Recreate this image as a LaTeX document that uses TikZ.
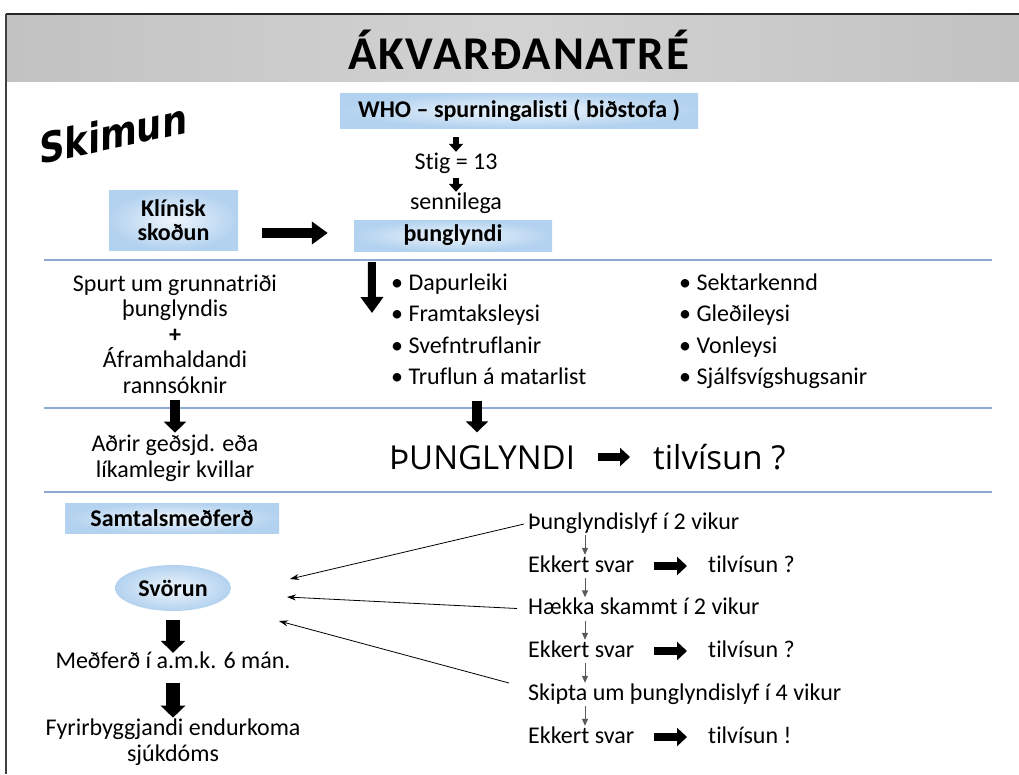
\documentclass[tikz,border=0pt]{standalone}
\usepackage{fontspec}
\setmainfont{Carlito}[Ligatures=NoCommon]
\newfontfamily\bigfont{Open Sans}
\newfontfamily\skimfont{DejaVu Sans}[FakeSlant=0.25]
\newfontfamily\titlefont{Carlito}[LetterSpace=4, Ligatures=NoCommon]
\usetikzlibrary{arrows.meta,shapes.geometric,calc}
\definecolor{boxout}{HTML}{B3D2EF}
\definecolor{boxin}{HTML}{EEF5FC}
\definecolor{rulecol}{HTML}{8FAAD3}
\definecolor{band}{HTML}{C2C2C2}
\definecolor{bandlight}{HTML}{D3D3D3}
\definecolor{thingrey}{HTML}{5A5A5A}
\begin{document}
\begin{tikzpicture}[x=1pt,y=-1pt,
  body/.style={font=\fontsize{24}{25.5}\selectfont, inner sep=0pt, align=center},
  oneline/.style={font=\fontsize{24}{25}\selectfont, inner sep=0pt, text height=17pt, text depth=5pt},
  bluebox/.style={inner color=boxin, outer color=boxout, inner sep=0pt,
    font=\fontsize{24}{24}\selectfont\bfseries, align=center},
  bigtext/.style={font=\bigfont\fontsize{33}{33}\selectfont, inner sep=0pt, text height=23pt, text depth=0pt},
  seprule/.style={draw=rulecol, line width=1.6pt},
  smalldown/.style={line width=6pt, -{Triangle[width=14pt,length=8pt]}},
  fatright/.style={line width=10pt, -{Triangle[width=22pt,length=16pt]}},
  medright/.style={line width=8pt, -{Triangle[width=18pt,length=10pt]}},
  bigdown/.style={line width=8pt, -{Triangle[width=22pt,length=16pt]}},
  middown/.style={line width=10pt, -{Triangle[width=22pt,length=11pt]}},
  svdown/.style={line width=14pt, -{Triangle[width=24pt,length=12pt]}},
  thinarrow/.style={draw=thingrey, line width=1pt, -{Triangle[width=6pt,length=7pt]}},
  backarrow/.style={draw=black, line width=0.8pt, -{Stealth[width=6pt,length=9pt]}}
]
\useasboundingbox (0,0) rectangle (1019,774);
\fill[white] (0,0) rectangle (1019,774);
% title band and frame
\shade[left color=band, right color=band, middle color=bandlight] (7,15) rectangle (1019,81);
\draw[line width=2.5pt, black!85] (5.5,14) -- (1019,14);
\draw[line width=2pt, black!75] (6,14) -- (6,774);
\node[font=\titlefont\fontsize{47}{47}\selectfont\bfseries, inner sep=0pt] (title) at (518.5,50) {ÁKVARÐANATRÉ};
\node[font=\skimfont\bfseries\fontsize{41}{41}\selectfont, rotate=12, inner sep=0pt] (skim) at (110,134) {\scalebox{0.88}[1]{Skimun}};

% top section
\node[bluebox, minimum width=358pt, minimum height=35pt] (who) at (519,110.5) {WHO – spurningalisti ( biðstofa )};
\node[oneline] (stig) at (456,163) {Stig = 13};
\node[oneline] (sen) at (456,203) {sennilega};
\node[bluebox, minimum width=198pt, minimum height=31pt] (pung) at (453,235.5) {þunglyndi};
\node[bluebox, minimum width=129pt, minimum height=60pt] (kl) at (173.5,220) {Klínisk\\skoðun};
\draw[smalldown] ($(who.south -| stig.north)+(0,9)$) -- (stig.north);
\draw[smalldown] ($(stig.south)+(0,4)$) -- (sen.north);
\draw[fatright] ($(kl.east)+(24,13)$) -- ($(pung.west)+(-26,-2.5)$);

\draw[seprule] (44,260) -- (992,260);

% second section
\node[body] (lft) at (175,334) {Spurt um grunnatriði\\þunglyndis\\\textbf{+}\\Áframhaldandi\\rannsóknir};
\node[oneline, anchor=west] (b1) at (391,284) {\textbullet\ Dapurleiki};
\node[oneline, anchor=west] (b2) at (391,315.5) {\textbullet\ Framtaksleysi};
\node[oneline, anchor=west] (b3) at (391,347) {\textbullet\ Svefntruflanir};
\node[oneline, anchor=west] (b4) at (391,378.5) {\textbullet\ Truflun á matarlist};
\node[oneline, anchor=west] (b5) at (679,284) {\textbullet\ Sektarkennd};
\node[oneline, anchor=west] (b6) at (679,315.5) {\textbullet\ Gleðileysi};
\node[oneline, anchor=west] (b7) at (679,347) {\textbullet\ Vonleysi};
\node[oneline, anchor=west] (b8) at (679,378.5) {\textbullet\ Sjálfsvígshugsanir};
\draw[bigdown] ($(pung.south west)+(18,11)$) -- ($(b1.west)+(-19,29)$);

\draw[seprule] (44,408) -- (992,408);

% third section
\node[body] (adr) at (175,458) {Aðrir geðsjd. eða\\líkamlegir kvillar};
\node[bigtext] (big) at (482,458) {ÞUNGLYNDI};
\node[bigtext, anchor=west] (tilv) at (653,458) {tilvísun ?};
\draw[middown] ($(lft.south)+(0,6)$) -- ($(adr.north)+(0,-2)$);
\draw[middown] ($(b4.south west)+(86,11)$) -- ($(big.north)+(-5,-14)$);
\draw[medright] ($(big.east)+(23,-1)$) -- ($(tilv.west)+(-23,-1)$);

\draw[seprule] (44,492) -- (992,492);

% bottom section
\node[bluebox, minimum width=214pt, minimum height=30pt] (sam) at (172,518) {Samtalsmeðferð};
\node[bluebox, ellipse, minimum width=116pt, minimum height=46pt] (sv) at (173,588) {Svörun};
\node[oneline] (mef) at (173,662) {Meðferð í a.m.k. 6 mán.};
\node[body] (fy) at (173,742) {Fyrirbyggjandi endurkoma\\sjúkdóms};
\draw[svdown] ($(sv.south)+(0,9)$) -- ($(mef.north)+(0,2)$);
\draw[svdown] ($(mef.south)+(0,10)$) -- ($(fy.north)+(0,-1)$);

\node[oneline, anchor=west] (r1) at (528,523) {Þunglyndislyf í 2 vikur};
\node[oneline, anchor=west] (r2) at (528,566) {Ekkert svar};
\node[oneline, anchor=west] (r3) at (528,608.5) {Hækka skammt í 2 vikur};
\node[oneline, anchor=west] (r4) at (528,651) {Ekkert svar};
\node[oneline, anchor=west] (r5) at (528,694) {Skipta um þunglyndislyf í 4 vikur};
\node[oneline, anchor=west] (r6) at (528,737) {Ekkert svar};
\node[oneline, anchor=west] (q1) at (708,566) {tilvísun ?};
\node[oneline, anchor=west] (q2) at (708,651) {tilvísun ?};
\node[oneline, anchor=west] (q3) at (708,737) {tilvísun !};

\foreach \a/\b in {r1/r2,r2/r3,r3/r4,r4/r5,r5/r6}
  \draw[thinarrow] ($(\a.south west)+(57,1)$) -- ($(\b.north west)+(57,0)$);
\foreach \a/\b in {r2/q1,r4/q2,r6/q3}
  \draw[medright] ($(\a.east)+(20,0)$) -- ($(\b.west)+(-21,0)$);

\coordinate (e1) at (290,579);
\coordinate (e2) at (287,597);
\coordinate (e3) at (279,621);
\draw[backarrow] ($(r1.west)+(-4,1)$) -- (e1);
\draw[backarrow] ($(r3.west)+(-11,0)$) -- (e2);
\draw[backarrow] ($(r5.west)+(-19,-11)$) -- (e3);
\end{tikzpicture}
\end{document}
